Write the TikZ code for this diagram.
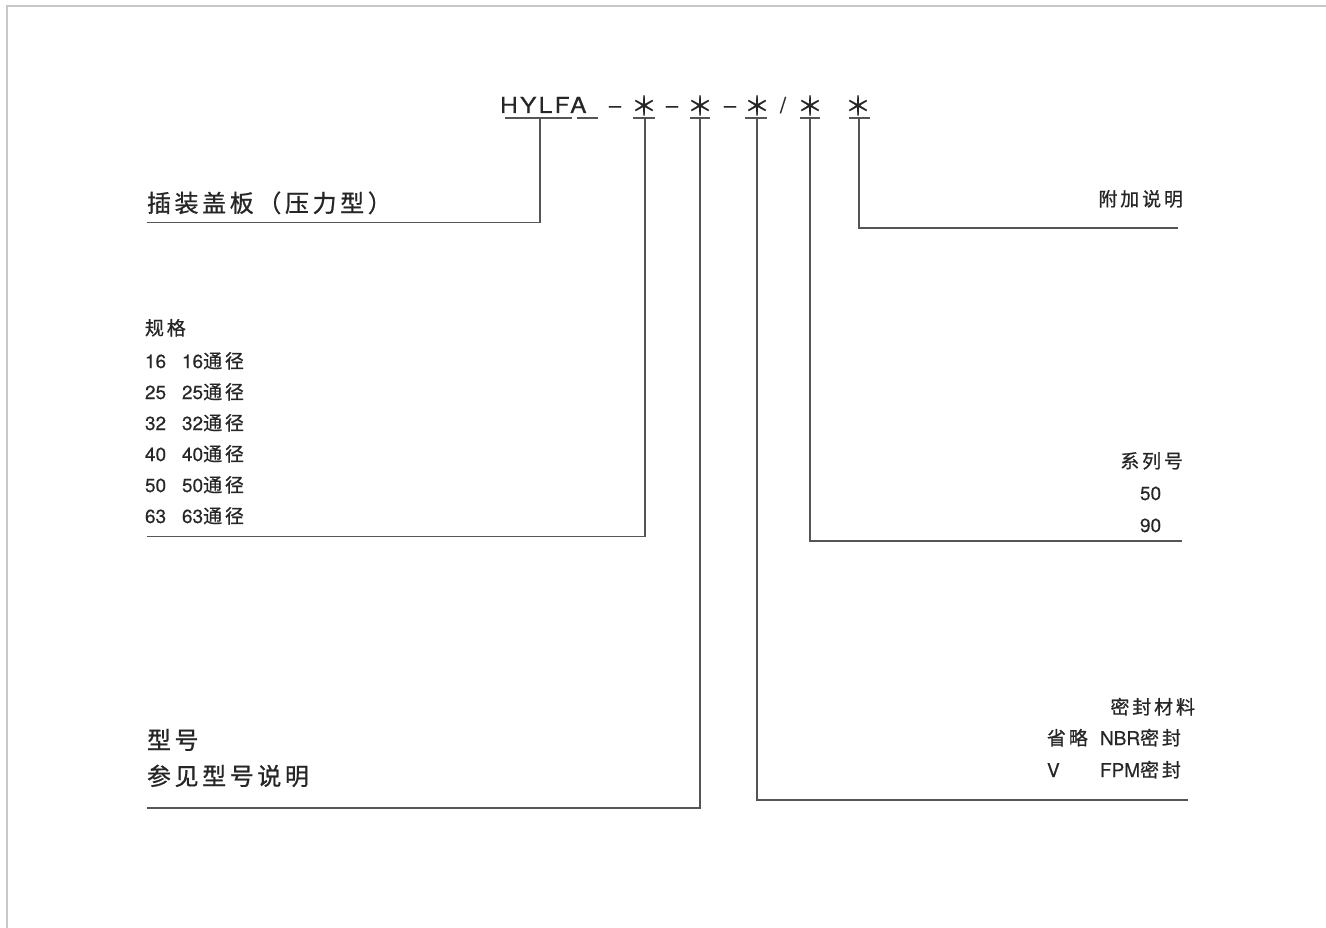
\documentclass[tikz,border=0pt]{standalone}
\usepackage{fontspec}
\setmainfont[FakeBold=0.4]{TeX Gyre Heros}
\newfontfamily\ttlfont[LetterSpace=9,FakeBold=0.3]{TeX Gyre Heros}
\newfontfamily\cjk[LetterSpace=15,FakeBold=0.8]{Noto Sans CJK SC}
\newfontfamily\starfont[FakeBold=0.5]{Noto Sans CJK SC}
\definecolor{txt}{HTML}{262626}
\definecolor{ln}{HTML}{555555}
\definecolor{frm}{HTML}{C8C8C8}
\begin{document}
\begin{tikzpicture}[x=1pt,y=1pt,
  every node/.style={inner sep=0pt,outer sep=0pt,text=txt},
  big/.style={font=\fontsize{24}{28}\selectfont},
  small/.style={font=\fontsize{19}{22}\selectfont},
  ttl/.style={font=\ttlfont\fontsize{22}{26}\selectfont,anchor=base},
  starsym/.style={font=\starfont\fontsize{26}{26}\selectfont},
  conn/.style={draw=ln,line width=1.4pt},
  uline/.style={draw=ln,line width=1.4pt},
  frame/.style={draw=frm,line width=2pt}]
\useasboundingbox (0,0) rectangle (1326,-928);
\draw[frame] (7,-928) -- (7,-6) -- (1326,-6);

% title
\node[ttl,anchor=base west] (hy) at (500,-113) {\scalebox{1.12}[1]{HYLFA}};
\node[ttl] (d1) at (615,-113) {–};
\node[starsym] (st1) at (644,-105.5) {＊};
\node[ttl] (d2) at (672,-113) {–};
\node[starsym] (st2) at (700,-105.5) {＊};
\node[ttl] (d3) at (730,-113) {–};
\node[starsym] (st3) at (757,-105.5) {＊};
\node[ttl] (sl) at (783,-113) {/};
\node[starsym] (st4) at (810,-105.5) {＊};
\node[starsym] (st5) at (858,-105.5) {＊};

% underlines
\draw[uline] (505,-118) -- (572,-118);
\draw[uline] (577,-118) -- (598,-118);
\draw[uline] (633,-118) -- (655,-118);
\draw[uline] (690,-118) -- (710,-118);
\draw[uline] (745,-118) -- (767,-118);
\draw[uline] (800,-118) -- (820,-118);
\draw[uline] (849,-118) -- (870,-118);

\coordinate (u0) at (540,-118);
\coordinate (u1) at (645,-118);
\coordinate (u2) at (700,-118);
\coordinate (u3) at (757,-118);
\coordinate (u4) at (810,-118);
\coordinate (u5) at (859,-118);
\coordinate (e0) at (147,-222.5);
\coordinate (e1) at (147,-536.5);
\coordinate (e2) at (147,-808);
\coordinate (e3) at (1188,-800);
\coordinate (e4) at (1182,-541);
\coordinate (e5) at (1178,-228);

\draw[conn] (u0) |- (e0);
\draw[conn] (u1) |- (e1);
\draw[conn] (u2) |- (e2);
\draw[conn] (u3) |- (e3);
\draw[conn] (u4) |- (e4);
\draw[conn] (u5) |- (e5);

% left labels
\node[big,anchor=base west] (t0) at (147,-212) {\cjk 插装盖板（压力型）};
\node[small,anchor=base west] (t1) at (145,-335) {\cjk 规格};
\node[small,anchor=base west] (r1) at (145,-368) {\makebox[37pt][l]{16}16{\cjk 通径}};
\node[small,anchor=base west] (r2) at (145,-399) {\makebox[37pt][l]{25}25{\cjk 通径}};
\node[small,anchor=base west] (r3) at (145,-430) {\makebox[37pt][l]{32}32{\cjk 通径}};
\node[small,anchor=base west] (r4) at (145,-461) {\makebox[37pt][l]{40}40{\cjk 通径}};
\node[small,anchor=base west] (r5) at (145,-492) {\makebox[37pt][l]{50}50{\cjk 通径}};
\node[small,anchor=base west] (r6) at (145,-523) {\makebox[37pt][l]{63}63{\cjk 通径}};
\node[big,anchor=base west] (t2a) at (147,-749) {\cjk 型号};
\node[big,anchor=base west] (t2b) at (147,-785) {\cjk 参见型号说明};

% right labels
\node[small,anchor=base east] (t5) at (1183,-206) {\cjk 附加说明};
\node[small,anchor=base east] (t4) at (1183,-468) {\cjk 系列号};
\node[small,anchor=base west] (t4a) at (1140,-500) {50};
\node[small,anchor=base west] (t4b) at (1140,-532) {90};
\node[small,anchor=base east] (t3) at (1195,-714) {\cjk 密封材料};
\node[small,anchor=base west] (t3a) at (1047,-745) {\makebox[53pt][l]{\cjk 省略}NBR{\cjk 密封}};
\node[small,anchor=base west] (t3b) at (1047,-777) {\makebox[53pt][l]{V}FPM{\cjk 密封}};
\end{tikzpicture}
\end{document}
